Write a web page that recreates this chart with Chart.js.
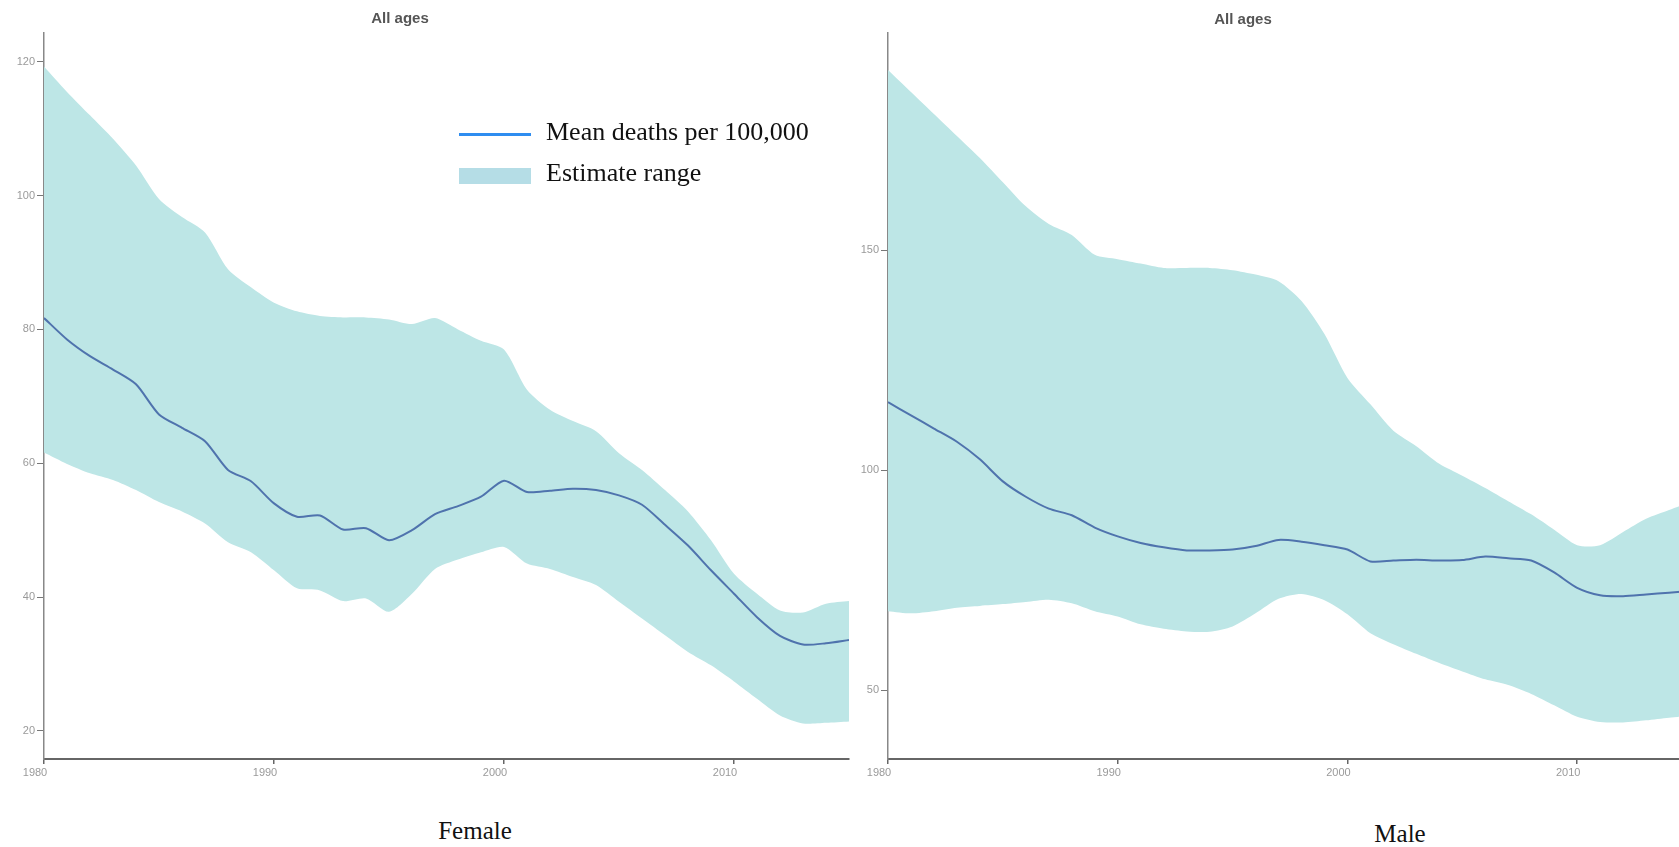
<!DOCTYPE html>
<html>
<head>
<meta charset="utf-8">
<script src="https://cdn.jsdelivr.net/npm/chart.js@4.4.1/dist/chart.umd.min.js"></script>
<style>
  html, body { margin:0; padding:0; background:#fff; width:1679px; height:847px; overflow:hidden; position:relative; }
  .abs { position:absolute; }
  .serif { font-family:"Liberation Serif","DejaVu Serif",serif; color:#111; font-size:25px; line-height:30px; white-space:nowrap; }
  .leg { font-size:26px; }
  .ttl { font-family:"Liberation Sans","DejaVu Sans",sans-serif; font-weight:bold; font-size:15px; line-height:18px; color:#555; white-space:nowrap; transform:translateX(-50%); }
  .ctr { transform:translateX(-50%); }
</style>
</head>
<body>
<script>
// ---- data ----
const years = [1980,1981,1982,1983,1984,1985,1986,1987,1988,1989,1990,1991,1992,1993,1994,1995,1996,1997,1998,1999,2000,2001,2002,2003,2004,2005,2006,2007,2008,2009,2010,2011,2012,2013,2014,2015];
const xTickLabels = [1980,1990,2000,2010];
const femaleTicks = [20,40,60,80,100,120];
const maleTicks = [50,100,150];

const femaleMean  = [81.7,78.5,76.0,74.0,71.8,67.3,65.3,63.3,59.0,57.3,54.0,52.0,52.2,50.1,50.3,48.5,50.0,52.4,53.6,55.0,57.4,55.7,55.9,56.2,56.0,55.2,53.8,50.8,47.7,44.0,40.5,37.0,34.2,32.9,33.1,33.6];
const femaleUpper = [119.3,115.5,112.0,108.5,104.5,99.5,96.8,94.5,89.0,86.3,84.0,82.7,82.0,81.8,81.8,81.5,80.8,81.7,80.0,78.3,77.0,71.0,68.0,66.3,64.8,61.5,59.0,56.0,52.8,48.5,43.5,40.5,38.0,37.7,39.0,39.4];
const femaleLower = [61.6,59.9,58.5,57.5,56.0,54.2,52.8,51.0,48.2,46.7,44.0,41.3,41.0,39.4,39.8,37.8,40.5,44.2,45.6,46.7,47.5,45.0,44.2,43.0,41.8,39.3,36.8,34.3,31.8,29.8,27.4,24.8,22.3,21.1,21.2,21.4];

const maleMean  = [115.5,112.5,109.5,106.5,102.5,97.5,94.0,91.3,89.8,87.0,85.0,83.5,82.5,81.8,81.8,82.0,82.8,84.2,83.8,83.0,82.0,79.3,79.5,79.7,79.5,79.6,80.4,80.0,79.5,76.8,73.3,71.6,71.4,71.8,72.2,72.6];
const maleUpper = [191,186,181,176,171,165.5,160,156,153.5,149,148,147,146,146,146,145.5,144.5,143,138.5,131,121,115,109,105.5,101.5,98.8,96,93,90,86.5,83,83,86,89,91,93];
const maleLower = [68.0,67.5,68.0,68.8,69.2,69.6,70.1,70.6,69.8,68.0,66.8,65.0,64.0,63.4,63.3,64.5,67.5,70.8,71.9,70.5,67.3,63.0,60.5,58.3,56.2,54.3,52.5,51.2,49.2,46.6,44.0,42.8,42.7,43.2,43.8,44.3];

const panelTitle = 'All ages';
const panelNames = ['Female','Male'];
const legendLabels = ['Mean deaths per 100,000','Estimate range'];
</script>

<div class="abs" style="left:0;top:0;"><canvas id="cf" width="855" height="800"></canvas></div>
<div class="abs" style="left:844px;top:0;"><canvas id="cm" width="860" height="800"></canvas></div>

<div class="abs ttl" id="t1" style="left:400px;top:9px;"></div>
<div class="abs ttl" id="t2" style="left:1243px;top:10px;"></div>

<div class="abs" style="left:459px;top:133px;width:72px;height:2.5px;background:#2f8df0;"></div>
<div class="abs" style="left:459px;top:168px;width:72px;height:16px;background:#b5dde6;"></div>
<div class="abs serif leg" id="l1" style="left:546px;top:117px;"></div>
<div class="abs serif leg" id="l2" style="left:546px;top:158px;"></div>

<div class="abs serif ctr" id="n1" style="left:475px;top:816px;"></div>
<div class="abs serif ctr" id="n2" style="left:1400px;top:819px;"></div>

<script>
document.getElementById('t1').textContent = panelTitle;
document.getElementById('t2').textContent = panelTitle;
document.getElementById('l1').textContent = legendLabels[0];
document.getElementById('l2').textContent = legendLabels[1];
document.getElementById('n1').textContent = panelNames[0];
document.getElementById('n2').textContent = panelNames[1];

const FILL = 'rgb(189,230,230)';
const LINE = '#4f73ad';
const pts = vals => years.map((y, i) => ({ x: y, y: vals[i] }));

function makeChart(id, mean, upper, lower, yMin, yMax, yTicks, padRight) {
  return new Chart(document.getElementById(id), {
    type: 'line',
    data: {
      datasets: [
        { label: legendLabels[0], data: pts(mean), borderColor: LINE, borderWidth: 2, pointRadius: 0, fill: false, tension: 0.25 },
        { label: 'upper', data: pts(upper), borderWidth: 0, borderColor: 'rgba(0,0,0,0)', pointRadius: 0, fill: '+1', backgroundColor: FILL, tension: 0.25 },
        { label: 'lower', data: pts(lower), borderWidth: 0, borderColor: 'rgba(0,0,0,0)', pointRadius: 0, fill: false, tension: 0.25 }
      ]
    },
    options: {
      responsive: false,
      animation: false,
      layout: { padding: { top: 33, right: padRight, left: 0, bottom: 0 } },
      plugins: { legend: { display: false }, tooltip: { enabled: false }, title: { display: false } },
      scales: {
        x: {
          type: 'linear', min: 1980, max: 2015,
          afterBuildTicks: s => { s.ticks = xTickLabels.map(v => ({ value: v })); },
          afterFit: s => { s.height = 41; },
          ticks: { color: '#9a9a9a', font: { size: 11, family: 'Liberation Sans' }, padding: 2, labelOffset: -9, maxRotation: 0, autoSkip: false, callback: v => String(v) },
          grid: { drawOnChartArea: false, drawTicks: true, tickLength: 5, color: '#666', lineWidth: 1.5 },
          border: { display: true, color: '#666', width: 2 }
        },
        y: {
          type: 'linear', min: yMin, max: yMax,
          afterBuildTicks: s => { s.ticks = yTicks.map(v => ({ value: v })); },
          afterFit: s => { s.width = 44; },
          ticks: { color: '#9a9a9a', font: { size: 11, family: 'Liberation Sans' }, padding: 2, autoSkip: false, callback: v => String(v) },
          grid: { drawOnChartArea: false, drawTicks: true, tickLength: 7, color: '#777', lineWidth: 1 },
          border: { display: true, color: '#888', width: 1.5 }
        }
      }
    }
  });
}

makeChart('cf', femaleMean, femaleUpper, femaleLower, 15.8, 124.3, femaleTicks, 6);
makeChart('cm', maleMean, maleUpper, maleLower, 34.4, 199.4, maleTicks, 12);
</script>
</body>
</html>
